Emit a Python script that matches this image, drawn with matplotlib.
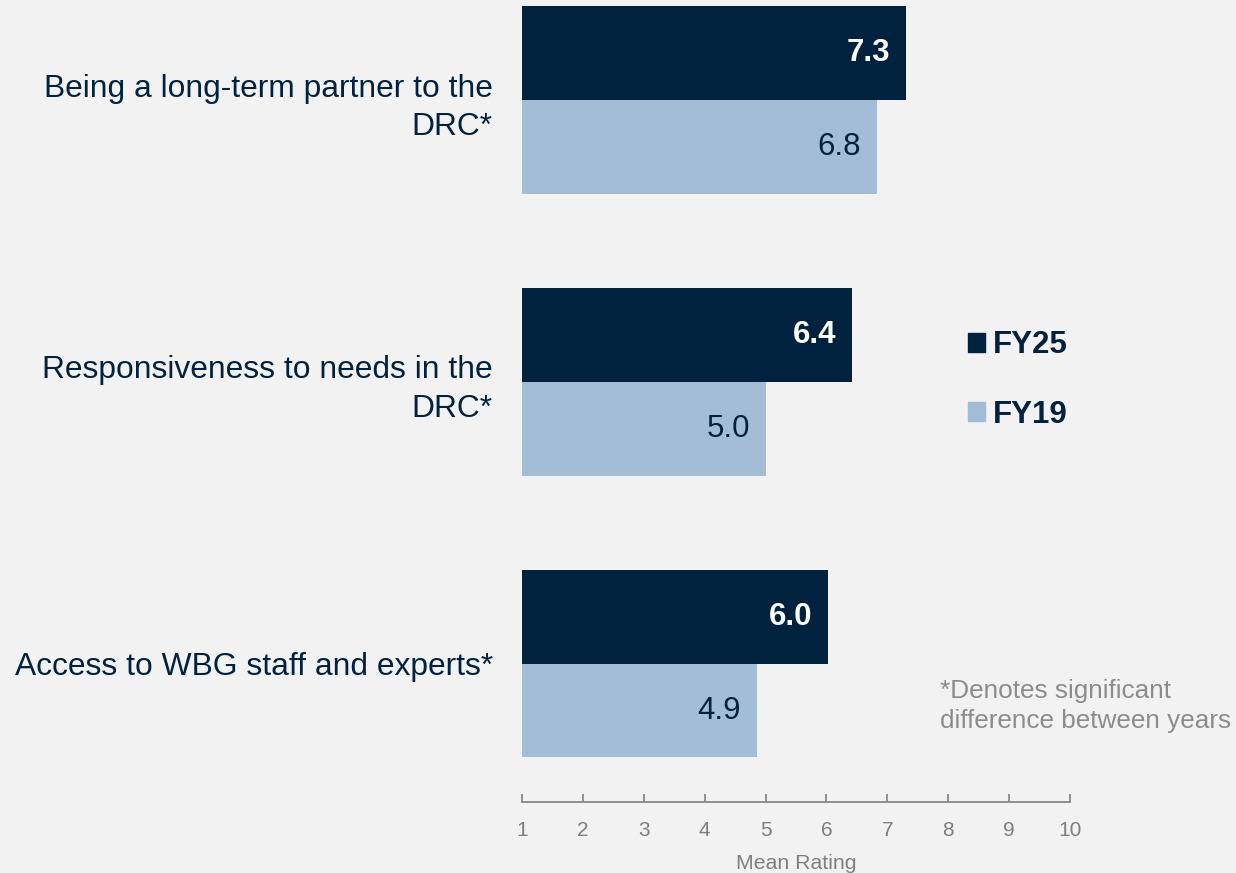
import matplotlib.pyplot as plt
from matplotlib.patches import Patch
import numpy as np

plt.rcParams['font.family'] = ['Liberation Sans', 'DejaVu Sans']

categories = ["Being a long-term partner to the\nDRC*",
              "Responsiveness to needs in the\nDRC*",
              "Access to WBG staff and experts*"]
# bar lengths, labels shown rounded to one decimal
fy25 = [7.31, 6.42, 6.03]
fy19 = [6.83, 5.01, 4.86]
series_names = ["FY25", "FY19"]
xticks = list(range(1, 11))

navy = "#00223F"
light = "#A2BDD5"
bg = "#F2F2F2"
gray = "#7F7F7F"

fig = plt.figure(figsize=(12.36, 8.73), dpi=100, facecolor=bg)
ax = fig.add_axes([522 / 1236, 71 / 873, 548 / 1236, 802 / 873])
ax.set_facecolor(bg)

y = np.arange(len(categories))
h = 0.332
ax.barh(y - h / 2, fy25, height=h, color=navy)
ax.barh(y + h / 2, fy19, height=h, color=light)

ax.set_xlim(1, 10)
ax.set_ylim(2.49, -0.355)

# value labels inside bar ends
for yi, v in zip(y, fy25):
    ax.annotate(f"{v:.1f}", (v, yi - h / 2), xytext=(-16, 0), textcoords="offset pixels",
                ha="right", va="center", color="white", fontsize=22.5, fontweight="bold")
for yi, v in zip(y, fy19):
    ax.annotate(f"{v:.1f}", (v, yi + h / 2), xytext=(-16, 0), textcoords="offset pixels",
                ha="right", va="center", color=navy, fontsize=22.5)

ax.set_yticks(y)
ax.set_yticklabels(categories, fontsize=22.9, color=navy, linespacing=1.36, multialignment="right")
ax.tick_params(axis="y", length=0, pad=21)

ax.set_xticks(xticks)
ax.set_xticklabels([str(t) for t in xticks], fontsize=15, color=gray)
ax.tick_params(axis="x", direction="in", length=6, color=gray, width=1.2, pad=14)
ax.set_xlabel("Mean Rating", fontsize=15.3, color=gray, labelpad=10)

for s in ["top", "right", "left"]:
    ax.spines[s].set_visible(False)
ax.spines["bottom"].set_color(gray)
ax.spines["bottom"].set_linewidth(1.2)

handles = [Patch(color=navy), Patch(color=light)]
leg = fig.legend(handles, series_names, loc="center left", bbox_to_anchor=(968 / 1236, 1 - 380 / 873),
                 frameon=False, prop={"size": 22.5, "weight": "bold"}, labelcolor=navy,
                 borderpad=0, borderaxespad=0, handlelength=0.55, handleheight=0.55,
                 handletextpad=0.25, labelspacing=1.25)

fig.text(940 / 1236, 1 - 706 / 873, "*Denotes significant\ndifference between years",
         fontsize=18.8, color="#8C8C8C", ha="left", va="center", linespacing=1.3)

fig.savefig("out.png", dpi=100, facecolor=bg)
